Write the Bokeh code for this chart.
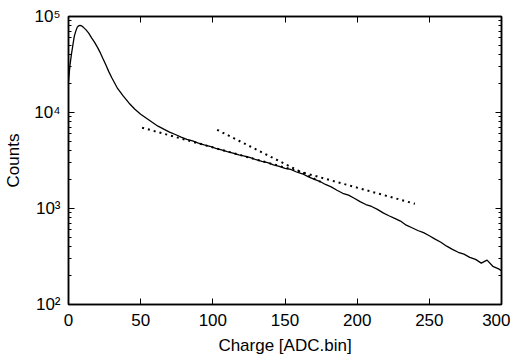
from bokeh.plotting import figure
from bokeh.models import (Range1d, LinearAxis, LogAxis, FixedTicker, CustomLabelingPolicy)
from bokeh.embed import file_html
from bokeh.resources import INLINE

# Histogram: charge (ADC bins) and counts
charge = [0, 1, 2, 3, 4, 5, 6, 7, 8, 9, 10,
          12, 14, 16, 18, 20, 22, 24, 26, 28, 30,
          34, 38, 42, 46, 50, 54, 58, 62, 66, 70, 74, 78, 82, 86, 90, 94, 98,
          102, 106, 110, 114, 118, 122, 126, 130, 134, 138, 142, 146, 150,
          154, 158, 162, 166, 170, 174, 178, 182, 186, 190, 194, 198, 202,
          206, 210, 214, 218, 222, 226, 230, 234, 238, 242, 246, 250, 254,
          258, 262, 266, 270, 274, 278, 282, 286, 290, 294, 298, 300]
counts = [21000, 31000, 40000, 50000, 62000, 70000, 77000, 80000, 81000, 80000, 78000,
          73000, 67000, 60000, 54000, 48000, 42000, 36000, 31000, 26500, 23000,
          17800, 14800, 12500, 10800, 9600, 8700, 7900, 7200, 6700, 6250, 5900, 5550, 5250, 5050, 4800, 4600, 4450,
          4220, 4080, 3920, 3780, 3620, 3520, 3380, 3220, 3100, 3000, 2850, 2750, 2620,
          2550, 2400, 2300, 2150, 2020, 1920, 1780, 1680, 1550, 1440, 1380, 1280, 1180,
          1100, 1050, 980, 900, 840, 790, 740, 670, 630, 590, 560, 520, 480,
          445, 405, 375, 350, 335, 310, 295, 270, 290, 250, 235, 225]

# Exponential fit lines (end points)
fit1_x = [51, 240]
fit1_y = [6950, 1120]
fit2_x = [103, 176]
fit2_y = [6600, 1850]

x_ticks = [0, 50, 100, 150, 200, 250, 300]
y_ticks = [100, 1000, 10000, 100000]
y_labels = ["10\u00b2", "10\u00b3", "10\u2074", "10\u2075"]

FONT = "Liberation Sans"

p = figure(width=510, height=357, y_axis_type="log",
           x_range=Range1d(0, 300), y_range=Range1d(100, 100000),
           output_backend="svg", toolbar_location=None,
           min_border_left=68, min_border_right=9, min_border_top=16, min_border_bottom=49)
p.background_fill_color = "white"
p.border_fill_color = "white"
p.grid.visible = False
p.outline_line_color = "black"
p.outline_line_width = 1.5

minor = []
for d in [100, 1000, 10000]:
    for k in range(2, 10):
        minor.append(d * k)

yt = FixedTicker(ticks=y_ticks, minor_ticks=minor)
xt = FixedTicker(ticks=x_ticks, minor_ticks=[])
overrides = {float(v): l for v, l in zip(y_ticks, y_labels)}

def style(ax, labels=True):
    ax.axis_line_color = "black"
    ax.axis_line_width = 1.5
    ax.major_tick_in = 6
    ax.major_tick_out = 0
    ax.minor_tick_in = 3
    ax.minor_tick_out = 0
    ax.major_tick_line_color = "black"
    ax.minor_tick_line_color = "black"
    ax.major_label_text_font = FONT
    ax.major_label_text_font_size = "17px"
    ax.major_label_text_color = "black"
    ax.axis_label_text_font = FONT
    ax.axis_label_text_font_size = "17px"
    ax.axis_label_text_font_style = "normal"
    ax.axis_label_text_color = "black"
    if not labels:
        ax.major_label_text_font_size = "2px"
        ax.major_label_standoff = 0
        ax.major_label_policy = CustomLabelingPolicy(code="return [];")

xa = p.xaxis[0]
xa.ticker = xt
style(xa)
xa.major_label_standoff = 9
xa.axis_label = "Charge [ADC.bin]"
xa.axis_label_standoff = 7

ya = p.yaxis[0]
ya.ticker = yt
style(ya)
ya.major_label_overrides = overrides
ya.major_label_standoff = 8
ya.axis_label = "Counts"
ya.axis_label_standoff = 8

top = LinearAxis(ticker=xt)
style(top, labels=False)
p.add_layout(top, "above")
right = LogAxis(ticker=yt)
style(right, labels=False)
p.add_layout(right, "right")

p.line(charge, counts, line_color="black", line_width=1.3)
p.line(fit1_x, fit1_y, line_color="black", line_width=2, line_dash="2 4")
p.line(fit2_x, fit2_y, line_color="black", line_width=2, line_dash="2 4")

open("out.html", "w").write(file_html(p, INLINE))
